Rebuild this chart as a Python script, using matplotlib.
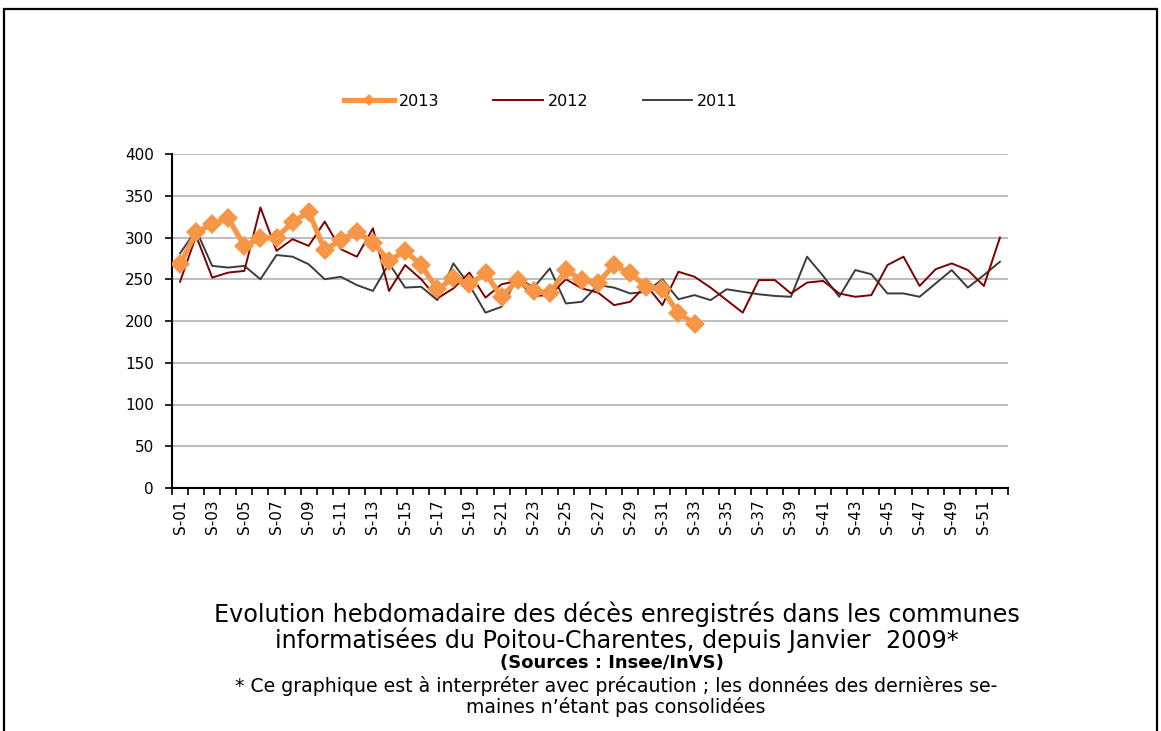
import matplotlib
matplotlib.use("Agg")
import matplotlib.pyplot as plt
from matplotlib.patches import Rectangle

plt.rcParams['font.family'] = ['DejaVu Sans']

weeks = [f"S-{i:02d}" for i in range(1, 53)]

y2013 = [268, 306, 316, 323, 290, 299, 300, 318, 331, 285, 297, 307, 294,
         272, 284, 267, 238, 251, 244, 257, 229, 249, 236, 233, 261, 249,
         246, 267, 257, 241, 238, 209, 197]

y2012 = [247, 302, 252, 258, 260, 336, 284, 298, 290, 319, 286, 277, 311,
         236, 267, 250, 227, 239, 258, 228, 244, 248, 230, 231, 250, 239,
         234, 219, 223, 243, 219, 259, 253, 240, 225, 210, 249, 249, 233,
         246, 248, 233, 229, 231, 267, 277, 242, 262, 269, 261, 242, 300]

y2011 = [281, 309, 266, 264, 266, 250, 279, 277, 268, 250, 253, 243, 236,
         269, 240, 241, 225, 269, 243, 210, 217, 252, 240, 263, 221, 223,
         243, 240, 233, 235, 250, 226, 231, 225, 238, 235, 232, 230, 229,
         277, 254, 229, 261, 256, 233, 233, 229, 245, 261, 240, 255, 271]

series_labels = ["2013", "2012", "2011"]
yticks = [0, 50, 100, 150, 200, 250, 300, 350, 400]

W, H = 1161, 731
fig = plt.figure(figsize=(W / 100, H / 100), dpi=100)
ax = fig.add_axes([172 / W, 1 - 488 / H, (1008 - 172) / W, (488 - 154) / H])

x13 = list(range(1, len(y2013) + 1))
x12 = list(range(1, len(y2012) + 1))
x11 = list(range(1, len(y2011) + 1))

ax.plot(x12, y2012, color='#7f0000', lw=1.4, label=series_labels[1], zorder=3)
ax.plot(x11, y2011, color='#3c3c3c', lw=1.4, label=series_labels[2], zorder=2)
ax.plot(x13, y2013, color='#f79646', lw=3.8, marker='D', markersize=10.5,
        markeredgewidth=0, label=series_labels[0], zorder=4)

ax.set_xlim(0.5, 52.5)
ax.set_ylim(0, 400)
ax.set_yticks(yticks)
ax.set_yticklabels([str(v) for v in yticks])
ax.yaxis.grid(True, color='#bfbfbf', lw=1.5)
ax.set_axisbelow(True)

ax.set_xticks([i + 0.5 for i in range(0, 53)])
ax.set_xticklabels([])
ax.set_xticks(list(range(1, 53, 2)), minor=True)
ax.set_xticklabels(weeks[::2], minor=True, rotation=90, fontsize=11)
ax.tick_params(axis='x', which='major', length=5, width=1.2, direction='out')
ax.tick_params(axis='x', which='minor', length=0, pad=8)
ax.tick_params(axis='y', length=5, width=1.2, labelsize=11, pad=8)

for s in ['top', 'right']:
    ax.spines[s].set_visible(False)
for s in ['left', 'bottom']:
    ax.spines[s].set_linewidth(1.5)
    ax.spines[s].set_color('black')

h, l = ax.get_legend_handles_labels()
order = [2, 0, 1]
fig.legend([h[i] for i in order], [l[i] for i in order], loc='center',
           bbox_to_anchor=(541 / W, 1 - 101 / H), ncol=3, frameon=False,
           fontsize=11.5, handlelength=3.1, columnspacing=3.4, handletextpad=0.3,
           markerscale=0.6)

fig.text(617 / W, 1 - 614 / H,
         "Evolution hebdomadaire des décès enregistrés dans les communes",
         ha='center', va='center', fontsize=17.2)
fig.text(617 / W, 1 - 640 / H,
         "informatisées du Poitou-Charentes, depuis Janvier  2009*",
         ha='center', va='center', fontsize=17.2)
fig.text(612 / W, 1 - 663 / H, "(Sources : Insee/InVS)",
         ha='center', va='center', fontsize=13, fontweight='bold')
fig.text(616 / W, 1 - 686 / H,
         "* Ce graphique est à interpréter avec précaution ; les données des dernières se-",
         ha='center', va='center', fontsize=13.6)
fig.text(616 / W, 1 - 707 / H, "maines n\u2019étant pas consolidées",
         ha='center', va='center', fontsize=13.6)

fig.patches.append(Rectangle((4 / W, -0.05), (1157 - 4) / W, 1.05 - 9 / H,
                             transform=fig.transFigure, fill=False,
                             edgecolor='black', lw=1.6))

fig.savefig("out.png", dpi=100)
